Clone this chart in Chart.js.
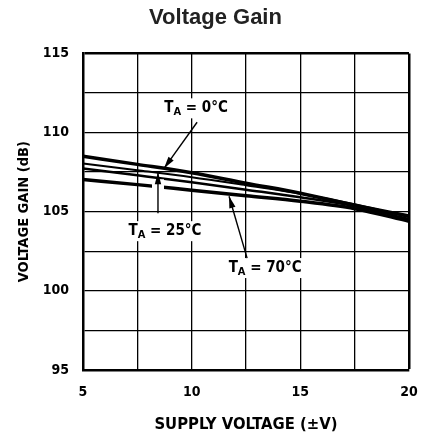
<!DOCTYPE html>
<html>
<head>
<meta charset="utf-8">
<script src="https://cdn.jsdelivr.net/npm/chart.js@4/dist/chart.umd.min.js"></script>
<style>
  html, body { margin: 0; padding: 0; background: #fff; }
  #wrap { width: 424px; height: 440px; }
</style>
</head>
<body>
<div id="wrap"><canvas id="myChart" width="424" height="440"></canvas></div>
<script>
// supply voltage (±V)
const supply = [5, 7.5, 10, 12.5, 15, 17.5, 20];
// voltage gain (dB) per curve
const gain0C = [108.5, 107.99, 107.46, 106.8, 106.17, 105.41, 104.72];
const gainMid = [108.04, 107.62, 107.18, 106.67, 106.14, 105.47, 104.65];
const gain25C = [107.73, 107.3, 106.86, 106.39, 105.91, 105.35, 104.53];
const gain70C = [107.03, 106.71, 106.36, 106.01, 105.66, 105.19, 104.4];
const yTicks = [95, 100, 105, 110, 115];
const xTicks = [5, 10, 15, 20];

const FONT = "'DejaVu Sans Condensed', 'Liberation Sans Narrow', sans-serif";

function pts(ys) {
  return supply.map((x, i) => ({x: x, y: ys[i]}));
}

function curve(label, ys, width) {
  return {
    label: label,
    data: pts(ys),
    borderColor: '#000',
    borderWidth: width,
    pointRadius: 0,
    cubicInterpolationMode: 'monotone',
    fill: false
  };
}

// label text and arrows, placed in data units
const notes = [
  {temp: '0°C', tx: 10.2, ty: 111.53, from: [10.25, 110.65], to: [8.73, 107.74], gap: false},
  {temp: '25°C', tx: 8.77, ty: 103.77, from: [8.45, 104.9], to: [8.45, 107.49], gap: true},
  {temp: '70°C', tx: 13.38, ty: 101.44, from: [12.55, 102.07], to: [11.72, 105.98], gap: false}
];

const notePlugin = {
  id: 'notes',
  afterDatasetsDraw(chart) {
    const ctx = chart.ctx;
    const xs = chart.scales.x, ys = chart.scales.y;
    const big = 'bold 15px ' + FONT, small = 'bold 11px ' + FONT;
    ctx.save();
    notes.forEach(n => {
      const x1 = xs.getPixelForValue(n.from[0]), y1 = ys.getPixelForValue(n.from[1]);
      const x2 = xs.getPixelForValue(n.to[0]), y2 = ys.getPixelForValue(n.to[1]);
      const cx = xs.getPixelForValue(n.tx), cy = ys.getPixelForValue(n.ty);
      const rest = ' = ' + n.temp;
      ctx.font = big;
      const wT = ctx.measureText('T').width;
      const wR = ctx.measureText(rest).width;
      ctx.font = small;
      const wA = ctx.measureText('A').width;
      const w = wT + wA + wR;

      // white box behind the label hides the grid
      ctx.fillStyle = '#fff';
      ctx.fillRect(cx - w / 2 - 3, cy - 10, w + 6, 20);

      if (n.gap) {
        // white cut where the arrow crosses the lower curve
        ctx.strokeStyle = '#fff';
        ctx.lineWidth = 12;
        ctx.beginPath();
        ctx.moveTo(x1, y2 + 7);
        ctx.lineTo(x1, y2 + 19);
        ctx.stroke();
      }
      ctx.strokeStyle = '#000';
      ctx.fillStyle = '#000';
      ctx.lineWidth = 1.4;
      ctx.beginPath();
      ctx.moveTo(x1, y1);
      ctx.lineTo(x2, y2);
      ctx.stroke();
      const a = Math.atan2(y2 - y1, x2 - x1);
      const L = 12, W = 3.2;
      ctx.beginPath();
      ctx.moveTo(x2, y2);
      ctx.lineTo(x2 - L * Math.cos(a) + W * Math.sin(a), y2 - L * Math.sin(a) - W * Math.cos(a));
      ctx.lineTo(x2 - L * Math.cos(a) - W * Math.sin(a), y2 - L * Math.sin(a) + W * Math.cos(a));
      ctx.closePath();
      ctx.fill();

      // T_A = ...
      let x = cx - w / 2;
      ctx.textBaseline = 'middle';
      ctx.textAlign = 'left';
      ctx.font = big;
      ctx.fillText('T', x, cy);
      x += wT;
      ctx.font = small;
      ctx.fillText('A', x, cy + 4);
      x += wA;
      ctx.font = big;
      ctx.fillText(rest, x, cy);
    });
    ctx.restore();
  }
};

new Chart('myChart', {
  type: 'line',
  data: {
    datasets: [
      curve('TA = 0°C', gain0C, 3.5),
      curve('', gainMid, 2),
      curve('TA = 25°C', gain25C, 2.5),
      curve('TA = 70°C', gain70C, 3.5)
    ]
  },
  plugins: [notePlugin],
  options: {
    responsive: false,
    animation: false,
    layout: {padding: {left: 8, right: 1, top: 0, bottom: 0}},
    plugins: {
      legend: {display: false},
      tooltip: {enabled: false},
      title: {
        display: true,
        text: 'Voltage Gain',
        color: '#222',
        font: {family: "'Liberation Sans', Arial, sans-serif", size: 22, weight: 'bold'},
        padding: {top: 5, bottom: 22}
      }
    },
    scales: {
      x: {
        type: 'linear',
        min: 5,
        max: 20,
        afterFit(s) {
          s.height = 70;
          s.paddingLeft = 0;
          s.paddingRight = 15;
        },
        afterBuildTicks(s) {
          s.ticks = [];
          for (let v = 5; v <= 20; v += 2.5) s.ticks.push({value: v});
        },
        ticks: {
          color: '#000',
          padding: 14,
          maxRotation: 0,
          font: {family: FONT, size: 14, weight: 'bold'},
          callback: v => xTicks.includes(v) ? v : ''
        },
        grid: {
          color: '#000',
          drawTicks: false,
          lineWidth: c => (c.index === 6 ? 2.5 : 1.3)
        },
        border: {color: '#000', width: 2.5},
        title: {
          display: true,
          text: 'SUPPLY VOLTAGE (±V)',
          color: '#000',
          font: {family: FONT, size: 16.5, weight: 'bold'},
          padding: {top: 3, bottom: 5}
        }
      },
      y: {
        type: 'linear',
        min: 95,
        max: 115,
        afterFit(s) { s.width = 75; },
        afterBuildTicks(s) {
          s.ticks = [];
          for (let v = 95; v <= 115; v += 2.5) s.ticks.push({value: v});
        },
        ticks: {
          color: '#000',
          padding: 14,
          font: {family: FONT, size: 14, weight: 'bold'},
          callback: v => yTicks.includes(v) ? v : ''
        },
        grid: {
          color: '#000',
          drawTicks: false,
          lineWidth: c => (c.index === 8 ? 2.5 : 1.3)
        },
        border: {color: '#000', width: 2.5},
        title: {
          display: true,
          text: 'VOLTAGE GAIN (dB)',
          color: '#000',
          font: {family: FONT, size: 14.5, weight: 'bold'},
          padding: {top: 8, bottom: 0}
        }
      }
    }
  }
});
</script>
</body>
</html>
